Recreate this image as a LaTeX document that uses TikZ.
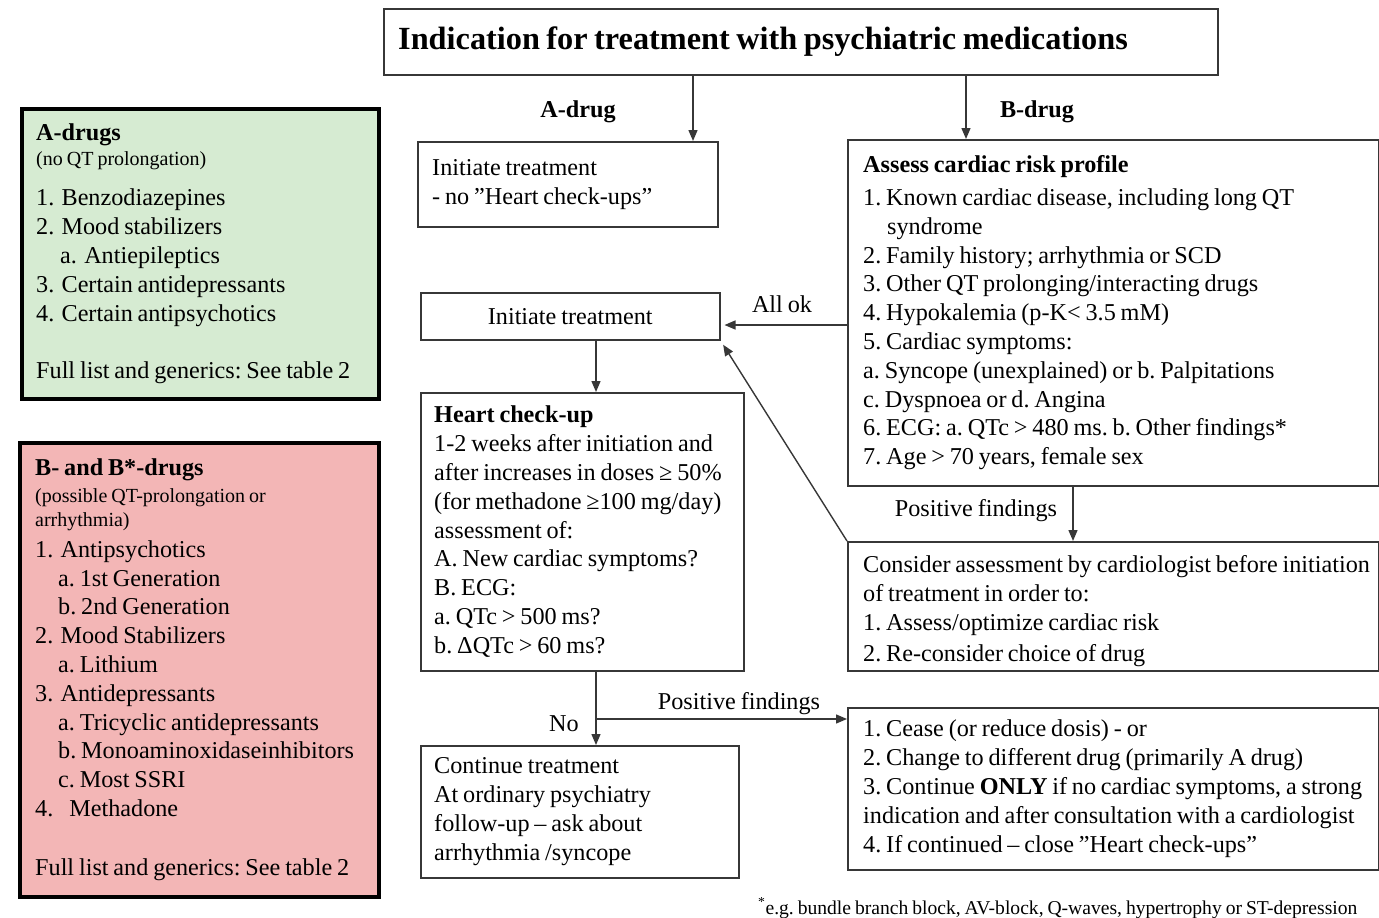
\documentclass[tikz,border=0pt]{standalone}
\usepackage{fontspec}
\setmainfont{Liberation Serif}[WordSpace=0.8]
\usetikzlibrary{arrows.meta,calc}

% text sizes used in the chart
\newcommand\txtbody{\fontsize{24.2}{28.8}\selectfont}
\newcommand\txtsmall{\fontsize{20}{28.8}\selectfont}
\newcommand\txttitle{\fontsize{32.3}{36}\selectfont\bfseries}
\newcommand\txtnote{\fontsize{19.6}{22}\selectfont}
\newcommand\numgap{\hspace{0.3em}}

\definecolor{agreen}{RGB}{214,235,210}
\definecolor{bred}{RGB}{243,182,182}
\definecolor{framegray}{RGB}{55,55,55}

\begin{document}
\frenchspacing
\begin{tikzpicture}[x=1pt,y=-1pt,
  box/.style={draw=framegray, line width=1.5pt, anchor=north west, inner sep=0pt},
  drugbox/.style={box, draw=black, line width=3.5pt},
  txt/.style={anchor=west, inner sep=0pt, align=left, font=\txtbody},
  lbl/.style={font=\txtbody, inner sep=1pt},
  arr/.style={draw=framegray, line width=1.4pt, -{Triangle[length=11pt,width=9pt]}}]
\useasboundingbox (0,0) rectangle (1379,918);

% ---- title ----
\node[box, minimum width=834, minimum height=66] (title) at (383,8) {};
\node[txt, font=\txttitle] (titleT) at ([xshift=15pt]title.west)
  {Indication for treatment with psychiatric medications};

% ---- drug classes ----
\node[drugbox, fill=agreen, minimum width=357, minimum height=290] (adrugs) at (20,107) {};
\node[txt] (adrugsT) at ([xshift=16pt]adrugs.west) {\textbf{A-drugs}\\[-4pt]
  {\txtsmall (no QT prolongation)}\\[12pt]
  1.\numgap Benzodiazepines\\
  2.\numgap Mood stabilizers\\
  \hspace*{24pt}a.\numgap Antiepileptics\\
  3.\numgap Certain antidepressants\\
  4.\numgap Certain antipsychotics\\[28.8pt]
  Full list and generics: See table 2};

\node[drugbox, fill=bred, minimum width=359, minimum height=454] (bdrugs) at (18,441) {};
\node[txt] (bdrugsT) at ([xshift=17pt]bdrugs.west) {\textbf{B- and B*-drugs}\\[-2pt]
  {\txtsmall (possible QT-prolongation or}\\[-5pt]
  {\txtsmall arrhythmia)}\\[2pt]
  1.\numgap Antipsychotics\\
  \hspace*{23pt}a. 1st Generation\\
  \hspace*{23pt}b. 2nd Generation\\
  2.\numgap Mood Stabilizers\\
  \hspace*{23pt}a. Lithium\\
  3.\numgap Antidepressants\\
  \hspace*{23pt}a. Tricyclic antidepressants\\
  \hspace*{23pt}b. Monoaminoxidaseinhibitors\\
  \hspace*{23pt}c. Most SSRI\\
  4.\hspace*{16pt}Methadone\\[30pt]
  Full list and generics: See table 2};

% ---- flow boxes ----
\node[box, minimum width=300, minimum height=85] (initA) at (417,141) {};
\node[txt] (initAT) at ([xshift=15pt]initA.west) {Initiate treatment\\- no ”Heart check-ups”};

\node[box, minimum width=531, minimum height=346] (assess) at (847,139) {};
\node[txt] (assessT) at ([xshift=16pt]assess.west) {\textbf{Assess cardiac risk profile}\\[4pt]
  1. Known cardiac disease, including long QT\\
  \hspace*{24pt}syndrome\\
  2. Family history; arrhythmia or SCD\\
  3. Other QT prolonging/interacting drugs\\
  4. Hypokalemia (p-K< 3.5 mM)\\
  5. Cardiac symptoms:\\
  a. Syncope (unexplained) or b. Palpitations\\
  c. Dyspnoea or d. Angina\\
  6. ECG: a. QTc > 480 ms. b. Other findings*\\
  7. Age > 70 years, female sex};

\node[box, minimum width=299, minimum height=47, font=\txtbody] (init) at (420,292) {Initiate treatment};

\node[box, minimum width=323, minimum height=278] (hc) at (420,392) {};
\node[txt] (hcT) at ([xshift=14pt]hc.west) {\textbf{Heart check-up}\\
  1-2 weeks after initiation and\\
  after increases in doses ≥ 50\%\\
  (for methadone ≥100 mg/day)\\
  assessment of:\\
  A. New cardiac symptoms?\\
  B. ECG:\\
  a. QTc > 500 ms?\\
  b. ΔQTc > 60 ms?};

\node[box, minimum width=531, minimum height=129] (consider) at (847,541) {};
\node[txt] (considerT) at ([xshift=16pt,yshift=-5pt]consider.west)
  {Consider assessment by cardiologist before initiation\\
  of treatment in order to:\\
  1. Assess/optimize cardiac risk\\[3pt]
  2. Re-consider choice of drug};

\node[box, minimum width=318, minimum height=132] (cont) at (420,745) {};
\node[txt] (contT) at ([xshift=14pt]cont.west) {Continue treatment\\
  At ordinary psychiatry\\
  follow-up – ask about\\
  arrhythmia /syncope};

\node[box, minimum width=531, minimum height=162] (cease) at (847,707) {};
\node[txt] (ceaseT) at ([xshift=16pt]cease.west) {1. Cease (or reduce dosis) - or\\
  2. Change to different drug (primarily A drug)\\
  3. Continue \textbf{ONLY} if no cardiac symptoms, a strong\\
  indication and after consultation with a cardiologist\\
  4. If continued – close ”Heart check-ups”};

% ---- connector guides ----
\coordinate (aX) at (693,0);
\coordinate (bX) at (966,0);
\coordinate (vX) at (596,0);
\coordinate (pX) at (1073,0);
\coordinate (okY) at (0,325);
\coordinate (split) at (596,719);

% ---- connectors ----
\draw[arr] (aX |- title.south) -- (aX |- initA.north);
\draw[arr] (bX |- title.south) -- (bX |- assess.north);
\draw[arr, shorten >=4pt] (okY -| assess.west) -- (okY -| init.east);
\draw[arr, shorten >=5pt] (consider.north west) -- (init.south east);
\draw[arr] (vX |- init.south) -- (vX |- hc.north);
\draw[arr] (pX |- assess.south) -- (pX |- consider.north);
\draw[arr] (vX |- hc.south) -- (vX |- cont.north);
\draw[arr] (split) -- (split -| cease.west);

% ---- connector labels ----
\node[lbl, font=\txtbody\bfseries] (lblA) at (578,112) {A-drug};
\node[lbl, font=\txtbody\bfseries] (lblB) at (1037,112) {B-drug};
\node[lbl] (lblok) at (782,304) {All ok};
\node[lbl] (lblpos) at (976,511) {Positive findings};
\node[lbl] (lblpostwo) at (739,704) {Positive findings};
\node[lbl] (lblno) at (564,724) {No};

% ---- footnote ----
\node[font=\txtnote, anchor=west, inner sep=0pt] (note) at (758,908)
  {\textsuperscript{*}e.g. bundle branch block, AV-block, Q-waves, hypertrophy or ST-depression};
\end{tikzpicture}
\end{document}
